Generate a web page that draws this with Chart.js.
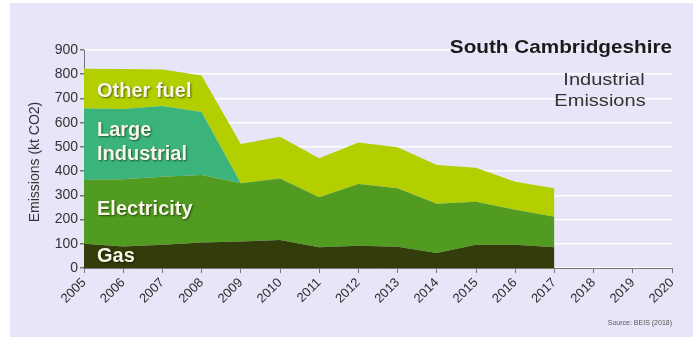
<!DOCTYPE html>
<html>
<head>
<meta charset="utf-8">
<script src="https://cdn.jsdelivr.net/npm/chart.js@4/dist/chart.umd.min.js"></script>
<style>
  html, body { margin: 0; padding: 0; background: #fff; }
  #wrap { position: relative; width: 693px; height: 340px; overflow: hidden; }
  #panel { position: absolute; left: 10px; top: 3px; right: 0; bottom: 3px; background: #e6e6f8; }
  #emissions { position: absolute; left: 0; top: 0; }
</style>
</head>
<body>
<div id="wrap">
  <div id="panel"></div>
  <canvas id="emissions" width="693" height="340"></canvas>
</div>
<script>
const years = ['2005','2006','2007','2008','2009','2010','2011','2012','2013','2014','2015','2016','2017','2018','2019','2020']
const yTicks = [0, 100, 200, 300, 400, 500, 600, 700, 800, 900]

// kt CO2 per fuel, 2005-2017 (stacked in this order)
const gas             = [100,  89,  96, 105, 109, 116,  86,  92,  88,  62,  96,  96,  86]
const electricity     = [263, 277, 281, 279, 241, 254, 206, 255, 241, 203, 178, 144, 126]
const largeIndustrial = [295, 290, 292, 260,   0,   0,   0,   0,   0,   0,   0,   0,   0]
const otherFuel       = [165, 166, 150, 151, 162, 172, 161, 171, 169, 160, 140, 116, 117]

const seriesNames = ['Gas', 'Electricity', 'Large Industrial', 'Other fuel']
const seriesColors = ['#333d0b', '#519b20', '#3bb47c', '#b4cf00']

const xFont = { family: 'Liberation Sans, Arial, sans-serif', size: 13 }
const yFont = { family: 'Liberation Sans, Arial, sans-serif', size: 14 }

const ctx = document.getElementById('emissions')

// text written inside the areas, on the canvas
const areaLabels = {
  id: 'areaLabels',
  afterDatasetsDraw(chart) {
    const c = chart.ctx
    const x = chart.scales.x.getPixelForValue(0) + 13
    const y = chart.scales.y
    const items = [
      ['Other fuel', 730],
      ['Large', 569],
      ['Industrial', 470],
      ['Electricity', 240],
      ['Gas', 47]
    ]
    c.save()
    c.font = 'bold 20px Liberation Sans, Arial, sans-serif'
    c.fillStyle = '#f6f7e4'
    c.textBaseline = 'middle'
    c.shadowColor = 'rgba(0,0,0,0.55)'
    c.shadowOffsetX = 1
    c.shadowOffsetY = 1
    c.shadowBlur = 2
    items.forEach(([t, v]) => c.fillText(t, x, y.getPixelForValue(v)))
    c.restore()
  }
}

// titles and source note
const headings = {
  id: 'headings',
  afterDraw(chart) {
    const c = chart.ctx
    const stretched = (text, x, y, sx, align) => {
      c.save()
      c.translate(x, y)
      c.scale(sx, 1)
      c.textAlign = align
      c.fillText(text, 0, 0)
      c.restore()
    }
    c.save()
    c.textBaseline = 'middle'
    c.fillStyle = '#1b1b1b'
    c.font = 'bold 18.5px Liberation Sans, Arial, sans-serif'
    stretched('South Cambridgeshire', 672, 48, 1.12, 'right')
    c.fillStyle = '#333'
    c.font = '17px Liberation Sans, Arial, sans-serif'
    stretched('Industrial', 604, 80, 1.18, 'center')
    stretched('Emissions', 600, 101, 1.18, 'center')
    c.font = '7px Liberation Sans, Arial, sans-serif'
    c.fillStyle = '#555'
    stretched('Source: BEIS (2018)', 672, 323, 1, 'right')

    c.translate(35, 162)
    c.rotate(-Math.PI / 2)
    c.font = '14px Liberation Sans, Arial, sans-serif'
    c.fillStyle = '#333'
    c.textAlign = 'center'
    c.fillText('Emissions (kt CO2)', 0, 0)
    c.restore()
  }
}

const values = [gas, electricity, largeIndustrial, otherFuel]

const myChart = new Chart(ctx, {
  type: 'line',
  data: {
    labels: years,
    datasets: values.map((d, i) => ({
      label: seriesNames[i],
      data: d,
      backgroundColor: seriesColors[i],
      borderWidth: 0,
      pointRadius: 0,
      tension: 0,
      fill: i === 0 ? 'origin' : '-1'
    }))
  },
  options: {
    responsive: false,
    animation: false,
    layout: { padding: { top: 50, right: 21, left: 0, bottom: 0 } },
    plugins: {
      legend: { display: false },
      tooltip: { enabled: false }
    },
    scales: {
      x: {
        offset: false,
        grid: { drawOnChartArea: false, tickLength: 5, tickColor: '#777' },
        border: { color: '#777' },
        ticks: { minRotation: 45, maxRotation: 45, font: xFont, color: '#2e2e2e', padding: 2 },
        afterFit: (s) => { s.height = 72 }
      },
      y: {
        stacked: true,
        min: yTicks[0],
        max: yTicks[yTicks.length - 1],
        afterBuildTicks: (s) => { s.ticks = yTicks.map(v => ({ value: v })) },
        grid: { color: 'rgba(255,255,255,0.95)', lineWidth: 1.5, tickLength: 4, tickColor: '#777' },
        border: { color: '#777' },
        ticks: { font: yFont, color: '#333', padding: 2 },
        afterFit: (s) => { s.width = 84 }
      }
    }
  },
  plugins: [areaLabels, headings]
})
</script>
</body>
</html>
